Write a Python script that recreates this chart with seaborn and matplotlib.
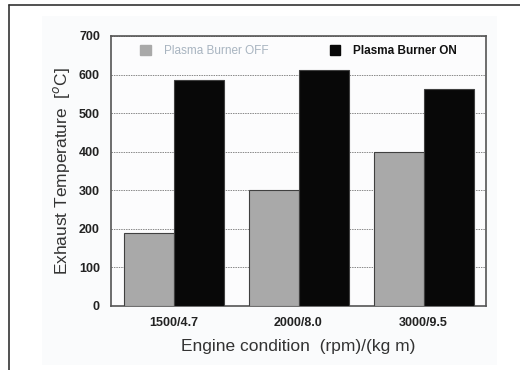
import matplotlib
matplotlib.use("Agg")
import matplotlib.pyplot as plt
import pandas as pd
import seaborn as sns
from matplotlib.lines import Line2D
from matplotlib.patches import Rectangle

sns.set_theme(style="white")
plt.rcParams["font.family"] = ["Liberation Sans", "DejaVu Sans"]

# ── data ─────────────────────────────────────────────────────────────
conditions = ["1500/4.7", "2000/8.0", "3000/9.5"]
burner_off = [190, 300, 400]
burner_on = [585, 612, 563]
series = ["Plasma Burner OFF", "Plasma Burner ON"]
yticks = [0, 100, 200, 300, 400, 500, 600, 700]

df = pd.DataFrame({
    "condition": conditions * 2,
    "temp": burner_off + burner_on,
    "series": [series[0]] * 3 + [series[1]] * 3,
})

fig = plt.figure(figsize=(5.2, 3.7), dpi=100)
fig.patch.set_facecolor("white")

# outer frame (top + left) and pale panel
fig.add_artist(Line2D([9 / 520, 9 / 520], [0, 1 - 5 / 370], color="#333333", lw=1.2))
fig.add_artist(Line2D([9 / 520, 1], [1 - 5 / 370, 1 - 5 / 370], color="#333333", lw=1.2))
fig.add_artist(Rectangle((42 / 520, 5 / 370), 455 / 520, 349 / 370,
                         facecolor="#fafbfc", edgecolor="none", zorder=-1))

ax = fig.add_axes([111 / 520, 1 - 306 / 370, 375 / 520, 270 / 370])
ax.set_facecolor("#fcfcfd")

sns.barplot(data=df, x="condition", y="temp", hue="series", order=conditions,
            hue_order=series, palette=["#a9a9a9", "#080808"], width=0.8,
            edgecolor="#404040", linewidth=0.8, ax=ax, legend=False, zorder=3)

ax.set_ylim(0, 700)
ax.set_xlim(-0.5, 2.5)
ax.set_yticks(yticks)
ax.set_yticklabels([str(t) for t in yticks], fontweight="bold", fontsize=9, color="#222222")
ax.set_xticklabels(conditions, fontweight="bold", fontsize=9, color="#222222")
ax.tick_params(axis="both", length=0, pad=8)
ax.yaxis.grid(True, linestyle=(0, (1.5, 1)), color="#888888", linewidth=0.7, zorder=0)
ax.set_axisbelow(True)
for s in ax.spines.values():
    s.set_color("#555555")
    s.set_linewidth(1.2)

ax.set_xlabel("Engine condition  (rpm)/(kg m)", fontsize=12.5, color="#333333", labelpad=7)
ax.set_ylabel("Exhaust Temperature  [$^o$C]", fontsize=12.5, color="#333333", labelpad=5)

# legend as two coloured labels
handles = [Rectangle((0, 0), 1, 1, color="#a9a9a9"), Rectangle((0, 0), 1, 1, color="#080808")]
leg = ax.legend(handles, series, loc="upper center", ncol=2, frameon=False,
                fontsize=8.5, handlelength=0.9, handleheight=0.9, handletextpad=1.1,
                columnspacing=5.2, bbox_to_anchor=(0.5, 1.0), borderaxespad=0.4)
leg.get_texts()[0].set_color("#a8b4c0")
leg.get_texts()[1].set_color("#111111")
leg.get_texts()[1].set_fontweight("bold")

fig.savefig("out.png", dpi=100)
